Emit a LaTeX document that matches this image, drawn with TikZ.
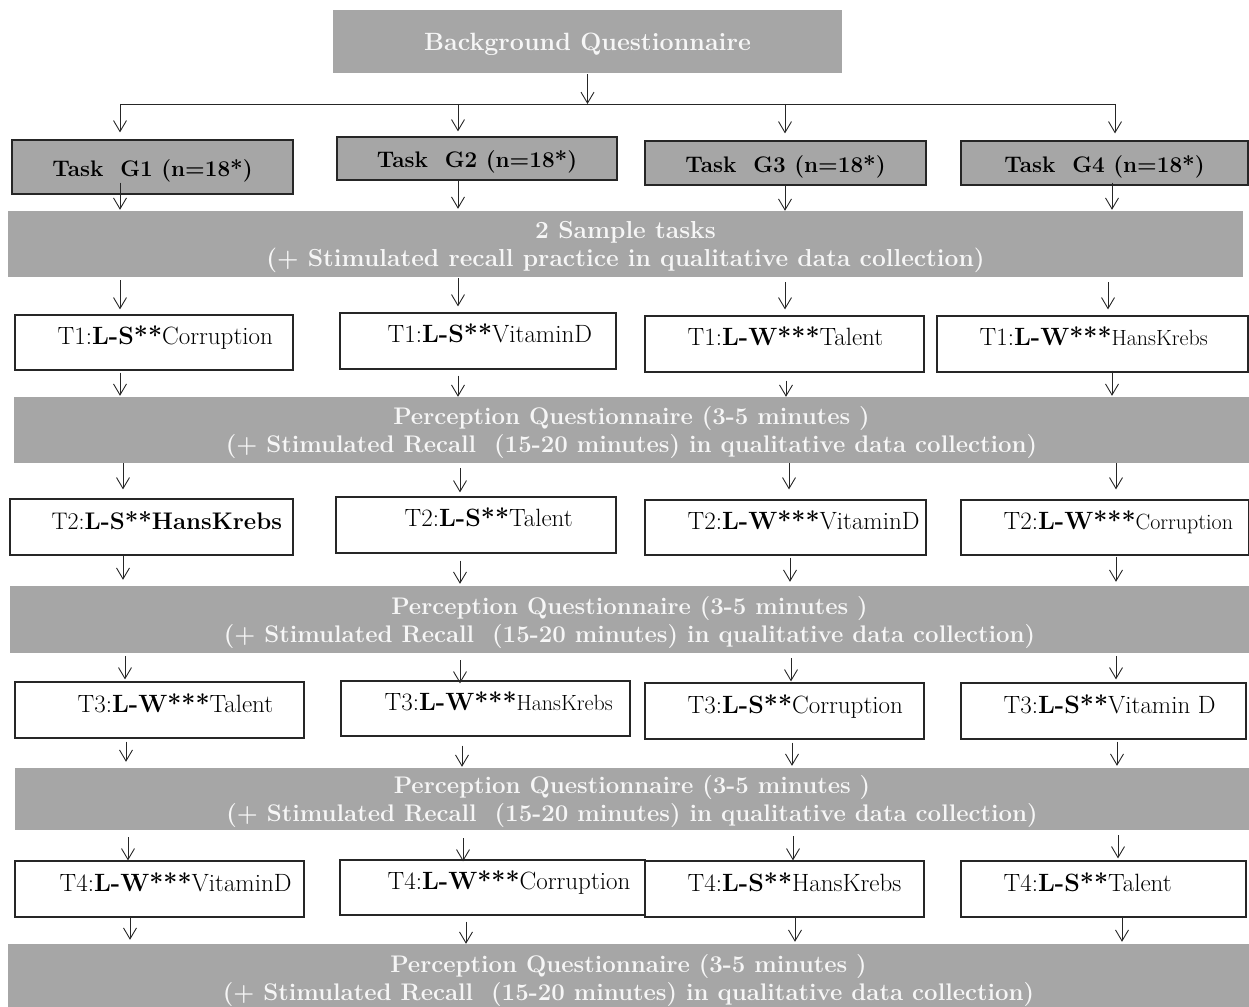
\documentclass[tikz,border=0pt]{standalone}
\usetikzlibrary{arrows.meta,calc}
\definecolor{barg}{RGB}{166,166,166}
\definecolor{wtxt}{RGB}{246,246,246}
\newcommand\bigf{\fontsize{24}{28}\selectfont}
\newcommand\labf{\fontsize{25}{28}\selectfont}
\newcommand\smf{\fontsize{22}{24}\selectfont}
\newcommand\upstrut{\rule{0pt}{24pt}}
\newcommand\rectnode[7]{\node[#2, minimum width={(#5-#3)*1pt}, minimum height={(#6-#4)*1pt}] (#1) at ({(#3+#5)/2},{(#4+#6)/2}) {#7};}
\tikzset{
  bar/.style={fill=barg, draw=none, inner sep=0pt, text=wtxt, font=\bigf\bfseries, align=center},
  gbox/.style={fill=barg, draw=black!85, line width=1.2pt, inner sep=0pt, font=\fontsize{22.5}{28}\selectfont\bfseries, text=black},
  tbox/.style={draw=black!85, line width=1.2pt, fill=white, inner sep=0pt},
  tlab/.style={font=\labf, anchor=base west, inner sep=0pt},
  arr/.style={-{Straight Barb[length=11pt,width=13pt]}, line width=0.9pt, draw=black!85},
  plainline/.style={line width=0.9pt, draw=black!85},
}
\begin{document}
\begin{tikzpicture}[x=1pt,y=-1pt]
\useasboundingbox (0,0) rectangle (1249,1006);
% top
\rectnode{bg}{bar, font=\fontsize{25}{28}\selectfont\bfseries}{333}{10}{842}{73}{\upstrut Background Questionnaire}
\rectnode{g1}{gbox}{12}{140}{293}{194}{\upstrut Task~~G1 (n=18*)}
\rectnode{g2}{gbox}{337}{137}{617}{180}{\upstrut Task~~G2 (n=18*)}
\rectnode{g3}{gbox}{645}{141}{926}{185}{\upstrut Task~~G3 (n=18*)}
\rectnode{g4}{gbox}{961}{141}{1248}{185}{\upstrut Task~~G4 (n=18*)}
\rectnode{s}{bar, font=\fontsize{24.6}{28}\selectfont\bfseries}{8}{211}{1243}{277}{\upstrut 2 Sample tasks\\(+ Stimulated recall practice in qualitative data collection)}
% T1 row
\rectnode{t1a}{tbox}{15}{315}{293}{370}{}
\rectnode{t1b}{tbox}{340}{313}{616}{369}{}
\rectnode{t1c}{tbox}{645}{316}{924}{372}{}
\rectnode{t1d}{tbox}{937}{316}{1248}{372}{}
\node[tlab] (t1aT) at ($(t1a.north west)+(43,30)$) {T1:\textbf{L-S**}Corruption};
\node[tlab] (t1bT) at ($(t1b.north west)+(48,30)$) {T1:\textbf{L-S**}VitaminD};
\node[tlab] (t1cT) at ($(t1c.north west)+(43,30)$) {T1:\textbf{L-W***}Talent};
\node[tlab] (t1dT) at ($(t1d.north west)+(43,30)$) {T1:\textbf{L-W***}{\smf HansKrebs}};
\rectnode{p1}{bar}{14}{397}{1249}{463}{\upstrut Perception Questionnaire (3-5 minutes )\\(+ Stimulated Recall~~(15-20 minutes) in qualitative data collection)}
% T2 row
\rectnode{t2a}{tbox}{10}{499}{293}{555}{}
\rectnode{t2b}{tbox}{336}{497}{616}{553}{}
\rectnode{t2c}{tbox}{645}{500}{926}{555}{}
\rectnode{t2d}{tbox}{961}{500}{1249}{555}{}
\node[tlab, font=\bigf] (t2aT) at ($(t2a.north west)+(42,31)$) {T2:\textbf{L-S**HansKrebs}};
\node[tlab] (t2bT) at ($(t2b.north west)+(69,30)$) {T2:\textbf{L-S**}Talent};
\node[tlab] (t2cT) at ($(t2c.north west)+(43,30)$) {T2:\textbf{L-W***}VitaminD};
\node[tlab] (t2dT) at ($(t2d.north west)+(43,30)$) {T2:\textbf{L-W***}{\smf Corruption}};
\rectnode{p2}{bar}{10}{586}{1249}{653}{\upstrut Perception Questionnaire (3-5 minutes )\\(+ Stimulated Recall~~(15-20 minutes) in qualitative data collection)}
% T3 row
\rectnode{t3a}{tbox}{15}{682}{304}{738}{}
\rectnode{t3b}{tbox}{341}{681}{630}{736}{}
\rectnode{t3c}{tbox}{645}{683}{924}{739}{}
\rectnode{t3d}{tbox}{961}{683}{1246}{739}{}
\node[tlab] (t3aT) at ($(t3a.north west)+(63,31)$) {T3:\textbf{L-W***}Talent};
\node[tlab] (t3bT) at ($(t3b.north west)+(44,30)$) {T3:\textbf{L-W***}{\smf HansKrebs}};
\node[tlab] (t3cT) at ($(t3c.north west)+(43,31)$) {T3:\textbf{L-S**}Corruption};
\node[tlab] (t3dT) at ($(t3d.north west)+(43,31)$) {T3:\textbf{L-S**}Vitamin D};
\rectnode{p3}{bar}{15}{768}{1249}{830}{\upstrut Perception Questionnaire (3-5 minutes )\\(+ Stimulated Recall~~(15-20 minutes) in qualitative data collection)}
% T4 row
\rectnode{t4a}{tbox}{15}{861}{304}{917}{}
\rectnode{t4b}{tbox}{340}{860}{645}{915}{}
\rectnode{t4c}{tbox}{645}{861}{924}{917}{}
\rectnode{t4d}{tbox}{961}{861}{1246}{917}{}
\node[tlab] (t4aT) at ($(t4a.north west)+(45,31)$) {T4:\textbf{L-W***}VitaminD};
\node[tlab] (t4bT) at ($(t4b.north west)+(48,30)$) {T4:\textbf{L-W***}Corruption};
\node[tlab] (t4cT) at ($(t4c.north west)+(43,31)$) {T4:\textbf{L-S**}HansKrebs};
\node[tlab] (t4dT) at ($(t4d.north west)+(43,31)$) {T4:\textbf{L-S**}Talent};
\rectnode{p4}{bar}{8}{944}{1249}{1010}{\upstrut Perception Questionnaire (3-5 minutes )\\(+ Stimulated Recall~~(15-20 minutes) in qualitative data collection)}
% branching
\coordinate (sp) at (587.5,104);
\coordinate (h1) at (120,104);
\coordinate (h2) at (458,104);
\coordinate (h3) at (785,104);
\coordinate (h4) at (1115,104);
\draw[arr, shorten <=1pt] (bg.south) -- (sp);
\draw[plainline] (h1) -- (h4);
\draw[arr, shorten >=7pt] (h1) -- (g1.north -| h1);
\draw[arr, shorten >=5pt] (h2) -- (g2.north -| h2);
\draw[arr, shorten >=7pt] (h3) -- (g3.north -| h3);
\draw[arr, shorten >=7pt] (h4) -- (g4.north -| h4);
% vertical connectors
\foreach \a/\b/\x/\sa/\sb in {
  g1/s/120/-12/1, g2/s/458/0/2, g3/s/785/0/0, g4/s/1112/-3/1,
  s/t1a/120/3/5, s/t1b/458/1/6, s/t1c/785/5/6, s/t1d/1108/5/6,
  t1a/p1/120/2/1, t1b/p1/458/6/0, t1c/p1/786/8/0, t1d/p1/1112/-2/1,
  p1/t2a/123/0/9, p1/t2b/460/5/4, p1/t2c/789/0/10, p1/t2d/1116/0/10,
  t2a/p2/123/0/6, t2b/p2/460/7/2, t2c/p2/790/2/4, t2d/p2/1116/1/4,
  p2/t3a/125/3/2, p2/t3b/460/7/-3, p2/t3c/791/5/1, p2/t3d/1116/3/3,
  t3a/p3/126/3/6, t3b/p3/462/9/1, t3c/p3/792/3/2, t3d/p3/1117/2/2,
  p3/t4a/128/7/0, p3/t4b/463/8/-2, p3/t4c/793/6/0, p3/t4d/1118/5/2,
  t4a/p4/130/0/4, t4b/p4/466/6/0, t4c/p4/795/0/2, t4d/p4/1122/0/2}{
  \coordinate (cx) at (\x,0);
  \draw[arr, shorten <=\sa pt, shorten >=\sb pt] (\a.south -| cx) -- (\b.north -| cx);
}
\end{tikzpicture}
\end{document}
